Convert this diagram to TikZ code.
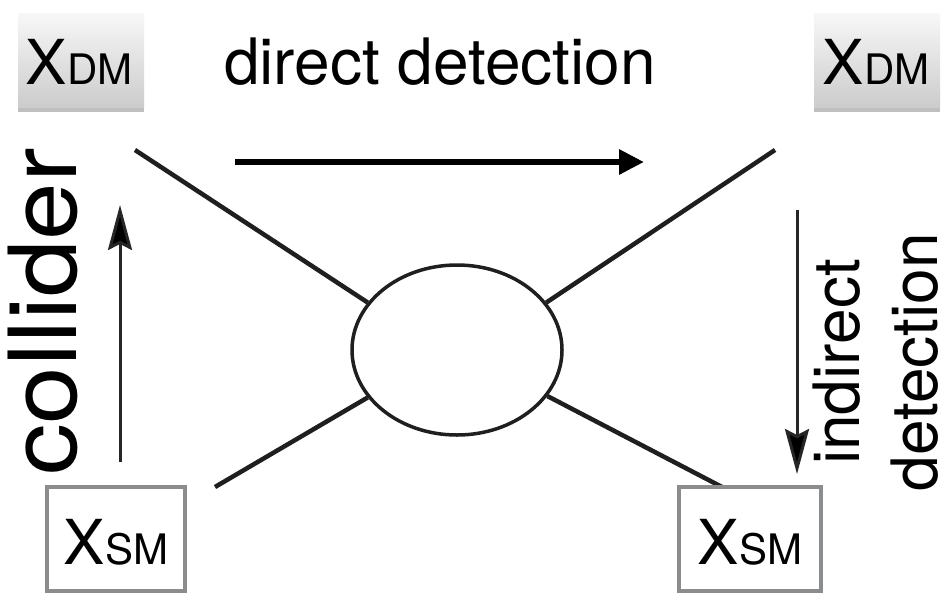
\documentclass[tikz,border=0pt]{standalone}
\usepackage{fontspec}
\setmainfont{TeX Gyre Heros}
\usetikzlibrary{arrows.meta,shapes.geometric,shadows}
\definecolor{boxgray}{HTML}{8A8C8E}
\tikzset{
  dmbox/.style={rectangle, minimum width=126pt, minimum height=94pt, inner sep=0pt,
    top color=white!97!black, bottom color=white!80!black, draw=none,
    drop shadow={opacity=0.5, shadow xshift=0pt, shadow yshift=-5pt}},
  smbox/.style={rectangle, minimum width=138pt, minimum height=104pt, inner sep=0pt,
    draw=boxgray, line width=4pt, fill=white},
  bigtxt/.style={font=\fontsize{64}{64}\selectfont},
  hugetxt/.style={font=\fontsize{94}{94}\selectfont},
  leg/.style={line width=4.5pt, draw=black!88},
  longarrow/.style={line width=6pt, -{Triangle[length=25pt,width=24pt]}},
  thinarrow/.style={line width=3pt, draw=black!85, -{Stealth[length=45pt,width=24pt,inset=6pt,fill=black]}},
}
\newcommand{\Xsub}[1]{{\fontsize{62}{62}\selectfont X}{\fontsize{42}{42}\selectfont #1}}
\begin{document}
\begin{tikzpicture}[x=1pt,y=-1pt]
\useasboundingbox (0,0) rectangle (952,595);
\fill[white] (0,0) rectangle (952,595);

% central blob
\node[ellipse, draw=black!88, line width=3.5pt, minimum width=210pt, minimum height=170pt, inner sep=0pt] (blob) at (457,350) {};

% legs
\coordinate (tl) at (135,150);
\coordinate (tr) at (775,150);
\coordinate (bl) at (215,487);
\coordinate (br) at (722,487);
\draw[leg] (tl) -- (blob.152);
\draw[leg] (tr) -- (blob.28);
\draw[leg] (bl) -- (blob.208);
\draw[leg] (br) -- (blob.333);

% boxes
\node[dmbox] (dmL) at (81,60) {};
\node[anchor=base] (dmLt) at (79,84) {\Xsub{DM}};
\node[dmbox] (dmR) at (877,60) {};
\node[anchor=base] (dmRt) at (876,84) {\Xsub{DM}};
\node[smbox] (smL) at (116,539) {};
\node[anchor=base] (smLt) at (116,564) {\Xsub{SM}};
\node[smbox, minimum width=142pt] (smR) at (750,539) {};
\node[anchor=base] (smRt) at (750,564) {\Xsub{SM}};

% labels
\node[bigtxt, anchor=base] (title) at (440,84) {direct detection};
\node[hugetxt, anchor=base, rotate=90] (coll) at (76,312) {\scalebox{1.1}[1]{collider}};
\node[bigtxt, anchor=base, rotate=90] (ind1) at (859,362) {indirect};
\node[bigtxt, anchor=base, rotate=90] (ind2) at (937,362) {detection};

% arrows
\coordinate (a1s) at (235,162);
\coordinate (a1e) at (644,162);
\coordinate (a2s) at (120,462);
\coordinate (a2e) at (120,205);
\coordinate (a3s) at (797,210);
\coordinate (a3e) at (797,474);
\draw[longarrow] (a1s) -- (a1e);
\draw[thinarrow] (a2s) -- (a2e);
\draw[thinarrow] (a3s) -- (a3e);
\end{tikzpicture}
\end{document}
